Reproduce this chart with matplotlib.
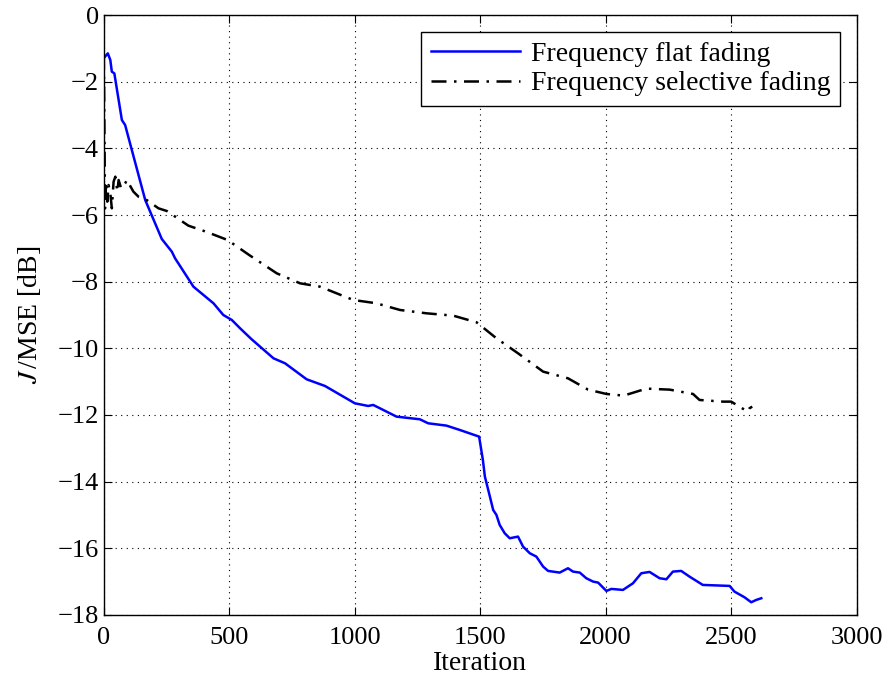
import numpy as np
import matplotlib
matplotlib.use('Agg')
import matplotlib.pyplot as plt

# Frequency flat fading (blue, solid)
flat_x = [0, 17, 27, 33, 43, 73, 86, 166, 232, 272, 285, 358, 398, 438, 477, 511,
          544, 590, 677, 723, 809, 882, 1001, 1054, 1074, 1101, 1167, 1260, 1293,
          1366, 1419, 1496, 1511, 1519, 1539, 1552, 1565, 1578, 1598, 1618, 1651,
          1671, 1698, 1724, 1751, 1771, 1817, 1850, 1870, 1897, 1923, 1950, 1970,
          2003, 2023, 2069, 2109, 2142, 2175, 2215, 2242, 2268, 2301, 2334, 2387,
          2494, 2513, 2553, 2580, 2600, 2620]
flat_y = [-1.30, -1.15, -1.35, -1.70, -1.75, -3.15, -3.30, -5.55, -6.72, -7.10,
          -7.30, -8.15, -8.40, -8.65, -9.00, -9.15, -9.40, -9.73, -10.30, -10.45,
          -10.93, -11.13, -11.65, -11.73, -11.70, -11.80, -12.05, -12.13, -12.25,
          -12.32, -12.45, -12.65, -13.35, -13.85, -14.45, -14.85, -15.00, -15.30,
          -15.55, -15.70, -15.65, -15.95, -16.15, -16.25, -16.55, -16.68, -16.73,
          -16.60, -16.70, -16.73, -16.90, -17.00, -17.03, -17.28, -17.22, -17.25,
          -17.05, -16.75, -16.71, -16.90, -16.93, -16.70, -16.68, -16.85, -17.10,
          -17.13, -17.30, -17.47, -17.62, -17.55, -17.50]

# Frequency selective fading (black, dash-dot)
sel_x = [0, 3, 6, 10, 15, 20, 27, 33, 40, 47, 55, 60, 70, 86, 93, 119, 139, 166,
         219, 252, 338, 408, 494, 580, 690, 783, 862, 995, 1088, 1101, 1181, 1287,
         1393, 1486, 1565, 1651, 1751, 1850, 1930, 2003, 2072, 2162, 2255, 2348,
         2374, 2467, 2500, 2533, 2566, 2573, 2584]
sel_y = [-0.2, -3.0, -5.8, -5.0, -5.6, -5.1, -5.35, -5.8, -5.0, -4.85, -5.3,
         -4.95, -5.2, -5.05, -4.95, -5.30, -5.45, -5.52, -5.80, -5.88, -6.32,
         -6.50, -6.75, -7.20, -7.75, -8.05, -8.15, -8.55, -8.65, -8.68, -8.85,
         -8.95, -9.02, -9.22, -9.70, -10.15, -10.70, -10.90, -11.24, -11.37,
         -11.42, -11.21, -11.24, -11.37, -11.55, -11.60, -11.60, -11.75, -11.90,
         -11.80, -11.75]

plt.rcParams['font.family'] = ['Liberation Serif', 'DejaVu Serif']
plt.rcParams['mathtext.fontset'] = 'stix'

fig = plt.figure(figsize=(8.85, 6.84), dpi=100)
ax = fig.add_axes([0.117, 0.101, 0.851, 0.877])

ax.plot(flat_x, flat_y, color='#0000ff', lw=1.8, label='Frequency flat fading')
ax.plot(sel_x, sel_y, color='black', lw=1.8, linestyle=(0, (6, 3, 1, 3)),
        label='Frequency selective fading')

ax.set_xlim(0, 3000)
ax.set_ylim(-18, 0)
ax.set_xticks(np.arange(0, 3001, 500))
ax.set_yticks(np.arange(-18, 1, 2))
ax.grid(True, linestyle=(0, (1, 4)), color='black', lw=0.8)
ax.tick_params(axis='both', direction='in', top=True, right=True,
               labelsize=19, length=6, width=0.8)
ax.tick_params(axis='x', pad=9)
for s in ax.spines.values():
    s.set_linewidth(1.0)

ax.set_xlabel('Iteration', fontsize=20, labelpad=1)
ax.set_ylabel(r'$J\,$/MSE [dB]', fontsize=20, labelpad=10)

leg = ax.legend(loc='upper right', fontsize=20, fancybox=False, framealpha=1,
                edgecolor='black', handlelength=3.2, handletextpad=0.4,
                borderaxespad=0.6, borderpad=0.35, labelspacing=0.15)
leg.get_frame().set_linewidth(1.0)

fig.savefig('out.png', dpi=100)
